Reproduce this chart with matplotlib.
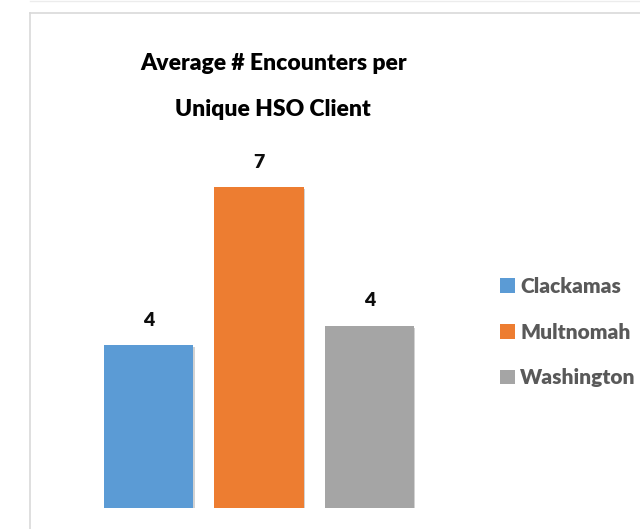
import matplotlib
matplotlib.use("Agg")
import matplotlib.pyplot as plt
import matplotlib.patheffects as pe
from matplotlib.lines import Line2D

counties = ["Clackamas", "Multnomah", "Washington"]
avg_encounters = [3.52, 6.94, 3.94]
colors = ["#5b9bd5", "#ed7d31", "#a5a5a5"]

plt.rcParams["font.family"] = ["Lato", "DejaVu Sans"]

W, H = 640, 529
fig = plt.figure(figsize=(W / 100, H / 100), dpi=100)

# light grey chart frame like the Excel screenshot
frame = "#d9d9d9"
fig.add_artist(Line2D([29.5 / W, 1], [1 - 12.5 / H, 1 - 12.5 / H], color=frame, lw=1.2))
fig.add_artist(Line2D([29.5 / W, 29.5 / W], [0, 1 - 12.5 / H], color=frame, lw=1.2))
fig.add_artist(Line2D([29.5 / W, 1], [1 - 0.5 / H, 1 - 0.5 / H], color="#ececec", lw=1.0))

ax = fig.add_axes([80 / W, (H - 508) / H, 360 / W, 370 / H])
x = range(len(counties))
bars = ax.bar(x, avg_encounters, width=0.81, color=colors, label=counties, zorder=2)
for b in bars:
    b.set_path_effects([pe.SimplePatchShadow(offset=(1, -1.5), shadow_rgbFace="#7f7f7f", alpha=0.35), pe.Normal()])

for xi, v in zip(x, avg_encounters):
    ax.annotate(f"{v:.0f}", (xi, v), xytext=(0, 18), textcoords="offset points",
                ha="center", va="center", fontsize=14, fontweight="heavy", color="#0d0d0d")

ax.set_xlim(-0.62, 2.64)
ax.set_ylim(0, 8)
ax.axis("off")

fig.text(274 / W, 1 - 64 / H, "Average # Encounters per", ha="center", va="center",
         fontsize=16.5, fontweight="heavy", color="#000000")
fig.text(273 / W, 1 - 109 / H, "Unique HSO Client", ha="center", va="center",
         fontsize=16.5, fontweight="heavy", color="#000000")

leg = fig.legend(handles=list(bars), labels=counties, loc="upper left",
                 bbox_to_anchor=(500 / W, 1 - 277 / H), frameon=False,
                 fontsize=15, handlelength=0.72, handleheight=0.72,
                 handletextpad=0.24, labelspacing=1.28, borderaxespad=0, borderpad=0)
for t in leg.get_texts():
    t.set_color("#595959")
    t.set_fontweight("heavy")
for h in leg.legend_handles:
    h.set_path_effects([])

fig.savefig("out.png", dpi=100)
